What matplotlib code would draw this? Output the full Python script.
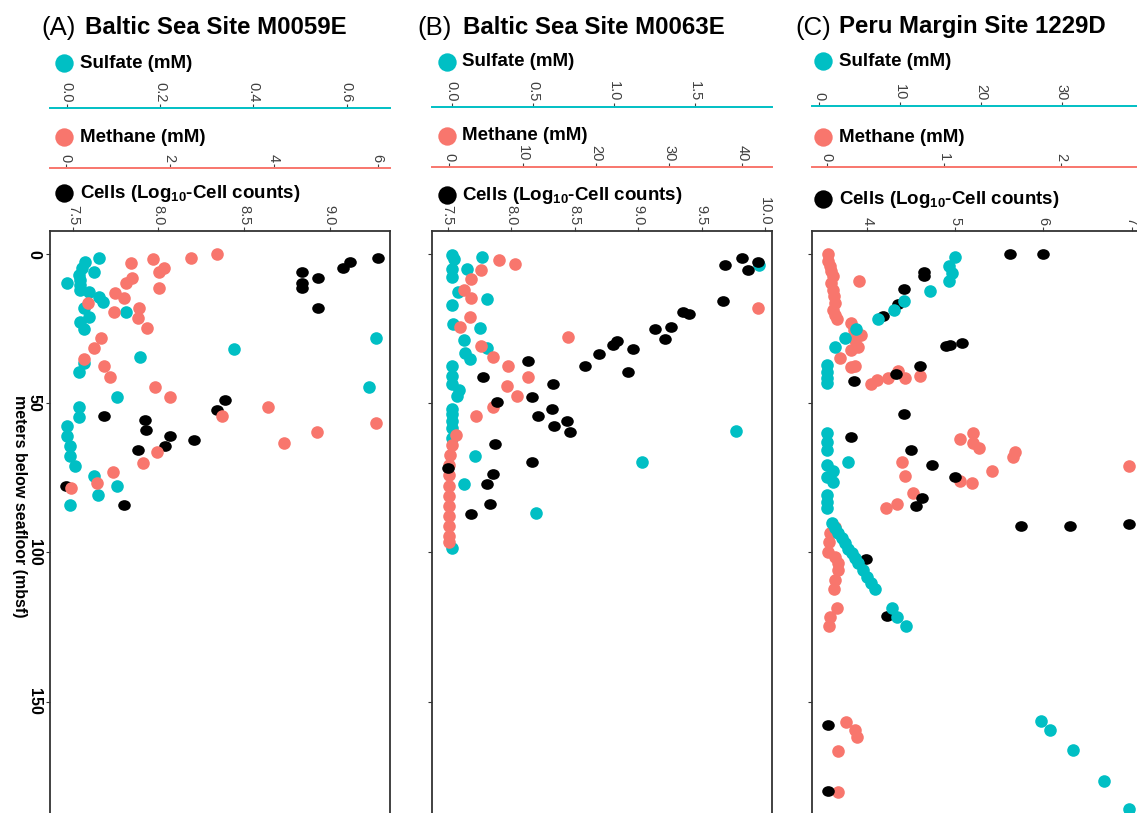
import matplotlib
matplotlib.use('Agg')
import matplotlib.pyplot as plt
from matplotlib.path import Path
from matplotlib.transforms import blended_transform_factory as blend

plt.rcParams['font.family'] = ['Liberation Sans', 'DejaVu Sans']
plt.rcParams['mathtext.fontset'] = 'custom'
plt.rcParams['mathtext.rm'] = 'Liberation Sans:bold'
plt.rcParams['mathtext.bf'] = 'Liberation Sans:bold'
plt.rcParams['mathtext.it'] = 'Liberation Sans:bold'

CYAN = '#00BFC4'
PINK = '#F8766D'
BLACK = '#000000'

# ---------------- data ----------------
# Panel A: Baltic Sea Site M0059E
A_cells_depth = [1.45, 2.8, 4.8, 6.1, 8.1, 9.8, 11.5, 18.0, 49.1, 52.2, 54.2, 55.8, 58.9, 60.9, 62.3, 64.3, 65.6, 77.6, 84.1]
A_cells = [9.28, 9.12, 9.08, 8.84, 8.93, 8.84, 8.84, 8.93, 8.39, 8.34, 7.68, 7.92, 7.93, 8.07, 8.21, 8.04, 7.88, 7.46, 7.80]
A_sulf_depth = [1.45, 2.8, 4.8, 6.1, 7.0, 8.7, 9.8, 10.4, 12.1, 12.6, 14.3, 16.0, 18.0, 19.6, 21.2, 22.7, 25.1, 28.2, 31.9, 34.6,
                36.6, 39.7, 44.6, 48.0, 51.3, 54.5, 57.8, 60.9, 64.3, 67.6, 71.0, 74.3, 77.6, 80.9, 84.1]
A_sulf = [0.068, 0.039, 0.032, 0.058, 0.027, 0.028, 0.0, 0.028, 0.028, 0.048, 0.070, 0.078, 0.037, 0.127, 0.048, 0.028, 0.037, 0.663, 0.358, 0.157,
          0.037, 0.027, 0.648, 0.107, 0.027, 0.027, 0.0, 0.0, 0.006, 0.006, 0.018, 0.058, 0.107, 0.066, 0.007]
A_meth_depth = [0.1, 1.45, 1.8, 2.9, 4.8, 6.2, 7.9, 9.8, 11.5, 13.2, 14.8, 16.3, 18.0, 19.3, 21.5, 24.9, 28.2, 31.4, 35.3, 37.7,
                41.3, 44.6, 48.0, 51.3, 54.2, 56.5, 59.8, 63.2, 66.5, 69.9, 73.2, 76.6, 78.4]
A_meth = [2.92, 2.42, 1.68, 1.26, 1.89, 1.79, 1.27, 1.16, 1.80, 0.95, 1.12, 0.43, 1.42, 0.93, 1.40, 1.56, 0.69, 0.55, 0.35, 0.74,
          0.85, 1.72, 2.01, 3.90, 3.00, 5.97, 4.84, 4.20, 1.75, 1.48, 0.92, 0.61, 0.10]

# Panel B: Baltic Sea Site M0063E
B_cells_depth = [1.3, 2.8, 3.6, 5.3, 15.6, 19.3, 20.2, 24.5, 25.1, 28.5, 29.1, 30.5, 31.8, 33.6, 35.7, 37.7, 39.7, 41.3, 43.6, 47.8,
                 49.5, 51.8, 54.2, 55.9, 57.7, 59.6, 63.8, 69.7, 71.6, 73.8, 77.2, 83.7, 87.3]
B_cells = [9.82, 9.94, 9.68, 9.86, 9.67, 9.35, 9.40, 9.26, 9.13, 9.21, 8.83, 8.80, 8.96, 8.69, 8.13, 8.58, 8.92, 7.78, 8.33, 8.16,
           7.89, 8.32, 8.21, 8.44, 8.34, 8.46, 7.87, 8.16, 7.50, 7.86, 7.81, 7.83, 7.68]
B_sulf_depth = [0.2, 1.1, 1.7, 3.8, 4.9, 4.9, 7.8, 12.9, 15.1, 17.0, 23.4, 24.9, 28.8, 31.4, 33.3, 35.2, 37.5, 40.9, 43.6, 45.6,
                47.6, 51.8, 53.7, 55.9, 58.2, 59.4, 61.5, 67.7, 69.7, 77.0, 86.7, 98.5]
B_sulf = [0.0, 0.185, 0.016, 1.89, 0.0, 0.092, 0.0, 0.041, 0.216, 0.004, 0.010, 0.174, 0.076, 0.219, 0.082, 0.113, 0.0, 0.0, 0.0, 0.047,
          0.035, 0.004, 0.0, 0.0, 0.004, 1.753, 0.0, 0.144, 1.175, 0.076, 0.520, 0.0]
B_meth_depth = [1.9, 3.4, 5.3, 8.4, 12.0, 14.6, 18.2, 21.2, 24.5, 27.7, 30.8, 34.4, 37.7, 41.1, 44.3, 47.6, 51.2, 54.4, 60.7, 64.1,
                67.5, 70.8, 74.2, 77.6, 81.0, 84.4, 87.8, 91.2, 94.6, 96.6]
B_meth = [6.84, 8.99, 4.34, 2.97, 2.05, 2.97, 42.1, 2.83, 1.46, 16.2, 4.34, 6.02, 8.07, 10.72, 7.93, 9.22, 6.02, 3.61, 0.92, 0.33,
          0.1, 0.0, 0.0, 0.0, 0.0, 0.0, 0.0, 0.0, 0.0, 0.0]

# Panel C: Peru Margin Site 1229D
C_cells_depth = [0, 0, 6.0, 7.5, 11.6, 16.8, 20.9, 29.9, 30.4, 30.7, 37.5, 40.3, 42.5, 53.7, 61.2, 65.6, 70.7, 74.9, 81.9, 84.3,
                 90.4, 91.0, 91.0, 102.2, 121.3, 157.9, 180.0]
C_cells = [5.62, 5.99, 4.64, 4.64, 4.42, 4.35, 4.18, 5.07, 4.94, 4.89, 4.60, 4.33, 3.85, 4.42, 3.82, 4.50, 4.74, 5.00, 4.62, 4.55,
           6.97, 5.75, 6.30, 3.99, 4.22, 3.55, 3.55]
C_sulf_depth = [1.1, 4.1, 6.4, 9.2, 12.3, 15.6, 18.7, 21.7, 25.0, 28.2, 31.3, 37.1, 39.4, 41.6, 43.3, 60.1, 62.9, 65.6, 69.6, 70.7,
                72.7, 74.6, 76.5, 80.7, 83.0, 85.2,
                90.3, 91.9, 93.6, 95.3, 97.0, 98.7, 100.3, 102.0, 103.7, 105.9, 108.2, 110.1, 112.3,
                118.6, 121.6, 124.7, 156.6, 159.6, 166.1, 176.7, 185.9]
C_sulf = [16.8, 16.05, 16.4, 16.1, 13.7, 10.5, 9.3, 7.2, 4.5, 3.2, 1.9, 1.0, 1.0, 1.0, 1.0, 1.0, 1.0, 1.0, 3.5, 1.0,
          1.7, 1.0, 1.7, 1.0, 1.0, 1.0,
          1.53, 1.94, 2.35, 2.77, 3.18, 3.59, 4.0, 4.42, 4.83, 5.37, 5.87, 6.36, 6.89,
          9.03, 9.58, 10.69, 27.4, 28.55, 31.4, 35.2, 38.3]
C_meth_depth = [0, 2.5, 4.1, 5.8, 7.5, 9.2, 9.7, 12.0, 14.2, 16.4, 18.7, 20.3, 21.7, 23.1, 25.4, 27.1, 28.7, 31.3, 32.3, 34.9,
                37.7, 38.0, 39.1, 41.4, 41.0, 41.6, 42.2, 43.6, 60.1, 61.9, 63.4, 64.9, 66.4, 68.2, 69.6, 71.2, 72.7, 74.3, 76.0, 76.8,
                80.2, 83.9, 85.0, 91.4, 93.6, 96.4, 99.8, 101.4, 103.7, 105.9, 109.3, 112.3, 118.8, 121.6, 124.6, 156.8, 159.6, 161.8, 166.6, 180.3]
C_meth = [0.01, 0.014, 0.03, 0.04, 0.05, 0.28, 0.04, 0.05, 0.06, 0.07, 0.05, 0.07, 0.09, 0.205, 0.23, 0.29, 0.24, 0.27, 0.21, 0.11,
          0.24, 0.21, 0.61, 0.67, 0.80, 0.52, 0.43, 0.38, 1.25, 1.14, 1.25, 1.30, 1.61, 1.59, 0.64, 2.58, 1.41, 0.67, 1.14, 1.24,
          0.735, 0.60, 0.51, 0.07, 0.03, 0.02, 0.015, 0.07, 0.10, 0.10, 0.07, 0.06, 0.085, 0.03, 0.02, 0.165, 0.24, 0.26, 0.10, 0.10]

titles_prefix = ['(A)', '(B)', '(C)']
titles = ['Baltic Sea Site M0059E', 'Baltic Sea Site M0063E', 'Peru Margin Site 1229D']

A_sulf_ticks = [0.0, 0.2, 0.4, 0.6]; A_sulf_labels = ['0.0', '0.2', '0.4', '0.6']
A_meth_ticks = [0, 2, 4, 6]; A_meth_labels = ['0', '2', '4', '6']
A_cell_ticks = [7.5, 8.0, 8.5, 9.0]; A_cell_labels = ['7.5', '8.0', '8.5', '9.0']
B_sulf_ticks = [0.0, 0.5, 1.0, 1.5]; B_sulf_labels = ['0.0', '0.5', '1.0', '1.5']
B_meth_ticks = [0, 10, 20, 30, 40]; B_meth_labels = ['0', '10', '20', '30', '40']
B_cell_ticks = [7.5, 8.0, 8.5, 9.0, 9.5, 10.0]; B_cell_labels = ['7.5', '8.0', '8.5', '9.0', '9.5', '10.0']
C_sulf_ticks = [0, 10, 20, 30]; C_sulf_labels = ['0', '10', '20', '30']
C_meth_ticks = [0, 1, 2]; C_meth_labels = ['0', '1', '2']
C_cell_ticks = [4, 5, 6, 7]; C_cell_labels = ['4', '5', '6', '7']

depth_ticks = [0, 50, 100, 150]
depth_labels = ['0', '50', '100', '150']

# ---------------- layout (pixels) ----------------
W, H = 1137, 813
fig = plt.figure(figsize=(W / 100, H / 100), dpi=100)

def fx(p):
    return p / W

def fy(p):
    return 1 - p / H

AX_TOP, AX_BOT, AX_W = 231, 832, 340
YLIM = (193.7, -7.7)

panels = [
    dict(left=50, tx=41.7, tx2=85, sul_y=108, met_y=168, leg_x=64, leg_y=(63, 137, 193),
         sulf=(A_sulf_depth, A_sulf), meth=(A_meth_depth, A_meth), cells=(A_cells_depth, A_cells),
         slim=(-0.036, 0.693), mlim=(-0.30, 6.24), clim=(7.367, 9.353),
         st=(A_sulf_ticks, A_sulf_labels), mt=(A_meth_ticks, A_meth_labels), ct=(A_cell_ticks, A_cell_labels),
         order=('sulf', 'cells', 'meth')),
    dict(left=432.3, tx=417, tx2=463, sul_y=107, met_y=167, leg_x=446.5, leg_y=(62, 136, 195),
         sulf=(B_sulf_depth, B_sulf), meth=(B_meth_depth, B_meth), cells=(B_cells_depth, B_cells),
         slim=(-0.12, 1.975), mlim=(-2.33, 44.1), clim=(7.379, 10.055),
         st=(B_sulf_ticks, B_sulf_labels), mt=(B_meth_ticks, B_meth_labels), ct=(B_cell_ticks, B_cell_labels),
         order=('sulf', 'meth', 'cells')),
    dict(left=812.3, tx=795, tx2=839, sul_y=106, met_y=167, leg_x=823, leg_y=(61, 137, 199),
         sulf=(C_sulf_depth, C_sulf), meth=(C_meth_depth, C_meth), cells=(C_cells_depth, C_cells),
         slim=(-0.87, 41.2), mlim=(-0.123, 2.78), clim=(3.376, 7.235),
         st=(C_sulf_ticks, C_sulf_labels), mt=(C_meth_ticks, C_meth_labels), ct=(C_cell_ticks, C_cell_labels),
         order=('meth', 'cells', 'sulf')),
]

TICKCOL = '#404040'
SPINECOL = '#333333'

# elliptical marker for cell counts
_c = Path.unit_circle()
ELL = Path(_c.vertices * [1.0, 0.85], _c.codes)

def make_strip(left, ly, lim, ticks, labels, color):
    s = fig.add_axes([fx(left), fy(ly), fx(AX_W), 1e-5])
    s.patch.set_visible(False)
    for k in ('left', 'right', 'bottom'):
        s.spines[k].set_visible(False)
    s.spines['top'].set_color(color)
    s.spines['top'].set_linewidth(1.4)
    s.set_xlim(*lim)
    s.set_yticks([])
    s.xaxis.set_ticks_position('top')
    s.xaxis.set_label_position('top')
    s.set_xticks(ticks)
    s.set_xticklabels(labels, rotation=-90)
    s.tick_params(axis='x', direction='out', length=3, width=0.8, color=TICKCOL,
                  labelcolor=TICKCOL, labelsize=10.5, pad=1)
    return s

for i, p in enumerate(panels):
    ax = fig.add_axes([fx(p['left']), fy(AX_BOT), fx(AX_W), (AX_BOT - AX_TOP) / H])
    ax.set_xlim(*p['clim'])
    ax.set_ylim(*YLIM)
    for sp in ax.spines.values():
        sp.set_color(SPINECOL)
        sp.set_linewidth(1.3)
    ax.xaxis.set_ticks_position('top')
    ax.set_xticks(p['ct'][0])
    ax.set_xticklabels(p['ct'][1], rotation=-90)
    ax.tick_params(axis='x', direction='out', length=3, width=0.8, color=TICKCOL,
                   labelcolor=TICKCOL, labelsize=10.5, pad=1)
    ax.set_yticks(depth_ticks)
    if i == 0:
        ax.set_yticklabels(depth_labels, rotation=-90, fontweight='bold', fontsize=11.5, va='center')
    else:
        ax.set_yticklabels([])
    ax.tick_params(axis='y', direction='out', length=3, width=0.8, color=SPINECOL,
                   labelcolor='black', pad=3)

    s_ax = make_strip(p['left'], p['sul_y'], p['slim'], p['st'][0], p['st'][1], CYAN)
    m_ax = make_strip(p['left'], p['met_y'], p['mlim'], p['mt'][0], p['mt'][1], PINK)

    series = {
        'sulf': (p['sulf'], blend(s_ax.transData, ax.transData), CYAN, 'o'),
        'meth': (p['meth'], blend(m_ax.transData, ax.transData), PINK, 'o'),
        'cells': (p['cells'], ax.transData, BLACK, ELL),
    }
    for z, key in enumerate(p['order']):
        (dep, val), tr, col, mk = series[key]
        ax.scatter(val, dep, s=82, color=col, marker=mk, linewidths=0,
                   transform=tr, zorder=3 + z, clip_on=True)

# overlay for titles and legend keys (pixel coordinates)
ov = fig.add_axes([0, 0, 1, 1], zorder=20)
ov.set_xlim(0, W)
ov.set_ylim(H, 0)
ov.axis('off')
ov.patch.set_visible(False)

legend_labels = ['Sulfate (mM)', 'Methane (mM)', r'Cells (Log$_{\mathbf{10}}$-Cell counts)']
legend_colors = [CYAN, PINK, BLACK]
for i, p in enumerate(panels):
    ov.text(p['tx'], 28, titles_prefix[i], fontsize=18.5, va='center', ha='left')
    ov.text(p['tx2'], 27, titles[i], fontsize=17.3, fontweight='bold', va='center', ha='left')
    for lab, col, ly in zip(legend_labels, legend_colors, p['leg_y']):
        ov.scatter([p['leg_x']], [ly], s=175, color=col, linewidths=0)
        ov.text(p['leg_x'] + 16, ly, lab, fontsize=13.5, fontweight='bold', va='center', ha='left')

ov.text(19, 506, 'meters below seafloor (mbsf)', rotation=-90, fontsize=11.5,
        fontweight='bold', ha='center', va='center')

fig.savefig('out.png', dpi=100)
